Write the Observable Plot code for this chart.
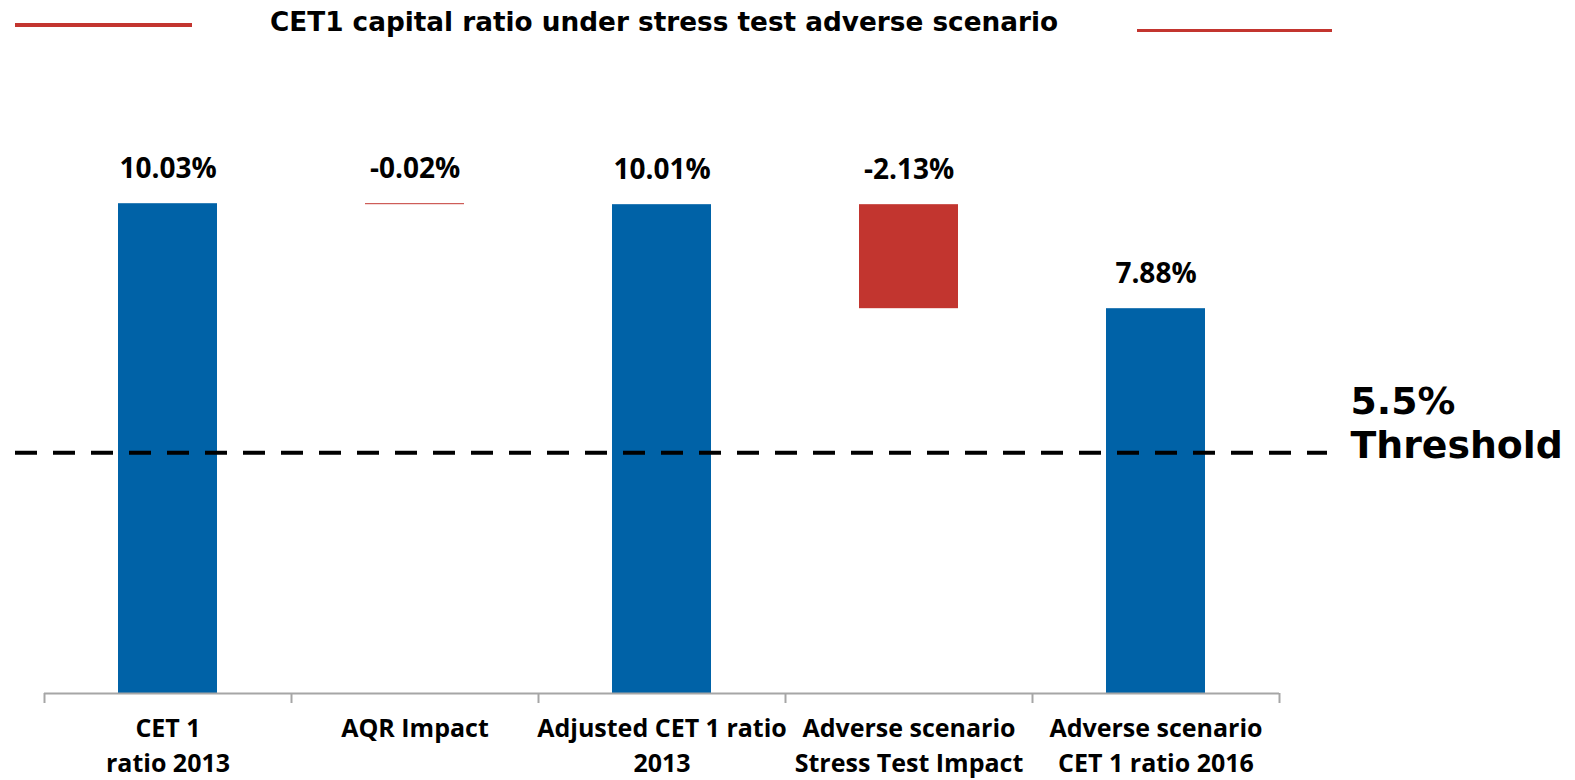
<!DOCTYPE html>
<html>
<head>
<meta charset="utf-8">
<script src="https://cdn.jsdelivr.net/npm/d3@7"></script>
<script src="https://cdn.jsdelivr.net/npm/@observablehq/plot@0.6"></script>
<style>
  body { margin: 0; background: #fff; }
  #wrap { position: relative; width: 1575px; height: 780px; overflow: hidden; }
  #title { position: absolute; left: 0; top: 9px; width: 1328px; text-align: center;
           font: bold 26.3px/26px "DejaVu Sans", sans-serif; color: #000; white-space: nowrap; }
  .redline { position: absolute; height: 3.5px; background: #c3352f; }
  #chart { position: absolute; left: 0; top: 0; }
</style>
</head>
<body>
<div id="wrap">
  <div id="chart"></div>
  <div class="redline" style="left:15px;top:23px;width:177px;"></div>
  <div class="redline" style="left:1137px;top:28.5px;width:195px;"></div>
  <div id="title"></div>
</div>
<script>
const titleText = "CET1 capital ratio under stress test adverse scenario";
const categories = [
  "CET 1\nratio 2013",
  "AQR Impact",
  "Adjusted CET 1 ratio\n2013",
  "Adverse scenario\nStress Test Impact",
  "Adverse scenario\nCET 1 ratio 2016"
];
const values = [10.03, -0.02, 10.01, -2.13, 7.88];
const kinds = ["total", "change", "total", "change", "total"];
const thresholdLabel = "5.5%\nThreshold";
const thresholdDrawnAt = 4.93; // level at which the dashed line is drawn in the picture

document.getElementById("title").textContent = titleText;

let run = 0;
const rows = categories.map((cat, i) => {
  const v = values[i];
  let y1, y2;
  if (kinds[i] === "total") { y1 = 0; y2 = v; run = v; }
  else { y1 = run; y2 = run + v; run = y2; }
  return { cat, y1, y2, top: Math.max(y1, y2), kind: kinds[i], label: v.toFixed(2) + "%" };
});

const W = 1575, H = 780, mL = 44, mR = 296, mT = 107, mB = 87;
const step = (W - mL - mR) / categories.length;

const chart = Plot.plot({
  width: W, height: H,
  marginLeft: mL, marginRight: mR, marginTop: mT, marginBottom: mB,
  x: { axis: null, domain: categories, paddingInner: 0.6, paddingOuter: 0.3 },
  y: { axis: null, domain: [0, 12] },
  color: { domain: ["total", "change"], range: ["#0062a7", "#c2352f"] },
  style: { background: "transparent", overflow: "visible" },
  marks: [
    Plot.barY(rows, { x: "cat", y1: "y1", y2: "y2", fill: "kind" }),
    Plot.ruleY([0], { stroke: "#a6a6a6", strokeWidth: 2 }),
    Plot.ruleX(categories, { x: d => d, dx: -step / 2, stroke: "#a6a6a6", strokeWidth: 2, insetTop: H - mT - mB, insetBottom: -10 }),
    Plot.ruleX([categories[categories.length - 1]], { x: d => d, dx: step / 2, stroke: "#a6a6a6", strokeWidth: 2, insetTop: H - mT - mB, insetBottom: -10 }),
    Plot.text(rows, { x: "cat", y: "top", text: "label", dy: -35, fontSize: 28, fontWeight: "bold", fontFamily: "Open Sans", fill: "#000" }),
    Plot.text(categories, { x: d => d, text: d => d, frameAnchor: "bottom", lineAnchor: "top", dy: 18, lineHeight: 1.42, fontSize: 25, fontWeight: "bold", fontFamily: "Open Sans", fill: "#000" }),
    Plot.ruleY([thresholdDrawnAt], { stroke: "#000", strokeWidth: 4, strokeDasharray: "22,16", insetLeft: -29, insetRight: -48 }),
    Plot.text([thresholdLabel], { text: d => d, y: thresholdDrawnAt, frameAnchor: "right", dx: 71, dy: -31, textAnchor: "start", lineAnchor: "middle", lineHeight: 1.17, fontSize: 37.8, fontWeight: "bold", fontFamily: "DejaVu Sans", fill: "#000" })
  ]
});
document.getElementById("chart").appendChild(chart);
</script>
</body>
</html>
